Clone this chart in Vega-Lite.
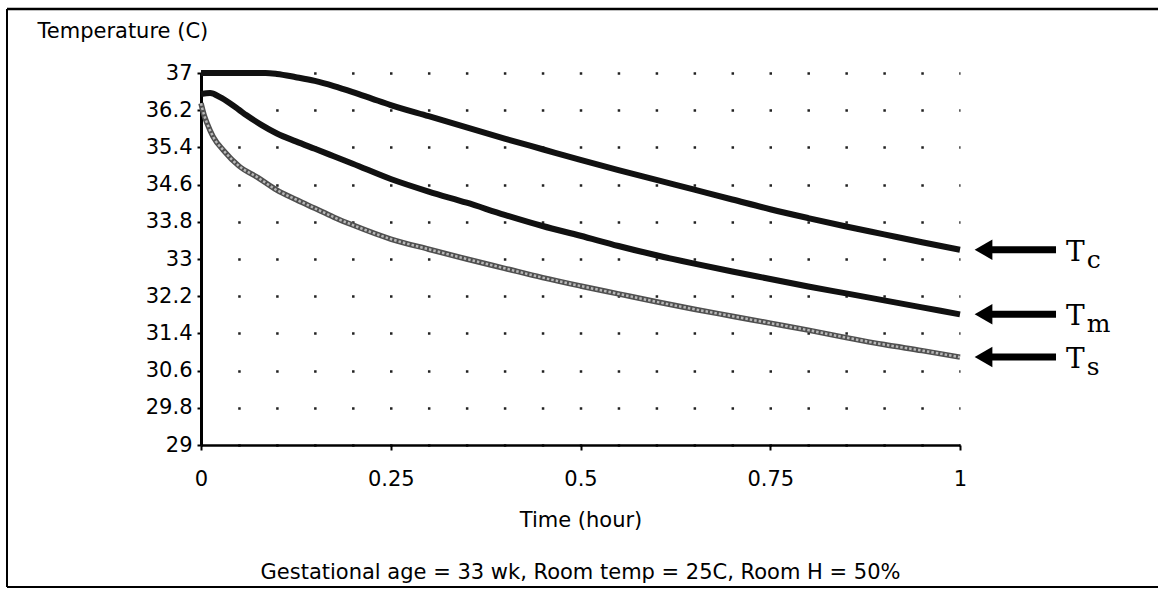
{
  "$schema": "https://vega.github.io/schema/vega-lite/v6.json",
  "width": 759,
  "height": 372,
  "autosize": {"type": "none"},
  "padding": {"left": 201, "top": 73, "right": 198, "bottom": 149},
  "background": "white",
  "config": {
    "view": {"stroke": null},
    "font": "DejaVu Sans",
    "axis": {"labelFont": "DejaVu Sans", "titleFont": "DejaVu Sans", "labelColor": "black", "titleColor": "black", "titleFontWeight": "normal"}
  },
  "datasets": {
    "curves": [
      {"series": "c", "time": 0, "temp": 37.0},
      {"series": "c", "time": 0.04, "temp": 37.0},
      {"series": "c", "time": 0.085, "temp": 37.0},
      {"series": "c", "time": 0.1, "temp": 36.98},
      {"series": "c", "time": 0.125, "temp": 36.91},
      {"series": "c", "time": 0.15, "temp": 36.83},
      {"series": "c", "time": 0.175, "temp": 36.72},
      {"series": "c", "time": 0.2, "temp": 36.59},
      {"series": "c", "time": 0.225, "temp": 36.45},
      {"series": "c", "time": 0.25, "temp": 36.31},
      {"series": "c", "time": 0.3, "temp": 36.07},
      {"series": "c", "time": 0.35, "temp": 35.83},
      {"series": "c", "time": 0.4, "temp": 35.59},
      {"series": "c", "time": 0.45, "temp": 35.36},
      {"series": "c", "time": 0.5, "temp": 35.13},
      {"series": "c", "time": 0.55, "temp": 34.91},
      {"series": "c", "time": 0.6, "temp": 34.7},
      {"series": "c", "time": 0.65, "temp": 34.49},
      {"series": "c", "time": 0.7, "temp": 34.28},
      {"series": "c", "time": 0.75, "temp": 34.07},
      {"series": "c", "time": 0.8, "temp": 33.88},
      {"series": "c", "time": 0.85, "temp": 33.7},
      {"series": "c", "time": 0.9, "temp": 33.53},
      {"series": "c", "time": 0.95, "temp": 33.36},
      {"series": "c", "time": 1, "temp": 33.2},
      {"series": "m", "time": 0, "temp": 36.55},
      {"series": "m", "time": 0.012, "temp": 36.57},
      {"series": "m", "time": 0.025, "temp": 36.48},
      {"series": "m", "time": 0.038, "temp": 36.35},
      {"series": "m", "time": 0.05, "temp": 36.21},
      {"series": "m", "time": 0.06, "temp": 36.09},
      {"series": "m", "time": 0.08, "temp": 35.88},
      {"series": "m", "time": 0.1, "temp": 35.7},
      {"series": "m", "time": 0.125, "temp": 35.53},
      {"series": "m", "time": 0.15, "temp": 35.37},
      {"series": "m", "time": 0.175, "temp": 35.21},
      {"series": "m", "time": 0.2, "temp": 35.05},
      {"series": "m", "time": 0.25, "temp": 34.72},
      {"series": "m", "time": 0.3, "temp": 34.45},
      {"series": "m", "time": 0.35, "temp": 34.21},
      {"series": "m", "time": 0.4, "temp": 33.95},
      {"series": "m", "time": 0.45, "temp": 33.71},
      {"series": "m", "time": 0.5, "temp": 33.5},
      {"series": "m", "time": 0.55, "temp": 33.28},
      {"series": "m", "time": 0.6, "temp": 33.08},
      {"series": "m", "time": 0.65, "temp": 32.9},
      {"series": "m", "time": 0.7, "temp": 32.73},
      {"series": "m", "time": 0.75, "temp": 32.57},
      {"series": "m", "time": 0.8, "temp": 32.41},
      {"series": "m", "time": 0.85, "temp": 32.26},
      {"series": "m", "time": 0.9, "temp": 32.11},
      {"series": "m", "time": 0.95, "temp": 31.96},
      {"series": "m", "time": 1, "temp": 31.81},
      {"series": "s", "time": 0, "temp": 36.35},
      {"series": "s", "time": 0.004, "temp": 36.1},
      {"series": "s", "time": 0.008, "temp": 35.92},
      {"series": "s", "time": 0.016, "temp": 35.63},
      {"series": "s", "time": 0.03, "temp": 35.33},
      {"series": "s", "time": 0.05, "temp": 35.0},
      {"series": "s", "time": 0.075, "temp": 34.75},
      {"series": "s", "time": 0.1, "temp": 34.48},
      {"series": "s", "time": 0.125, "temp": 34.28},
      {"series": "s", "time": 0.15, "temp": 34.09},
      {"series": "s", "time": 0.175, "temp": 33.9},
      {"series": "s", "time": 0.2, "temp": 33.73},
      {"series": "s", "time": 0.25, "temp": 33.43},
      {"series": "s", "time": 0.3, "temp": 33.21},
      {"series": "s", "time": 0.35, "temp": 33.0},
      {"series": "s", "time": 0.4, "temp": 32.8},
      {"series": "s", "time": 0.45, "temp": 32.6},
      {"series": "s", "time": 0.5, "temp": 32.42},
      {"series": "s", "time": 0.55, "temp": 32.25},
      {"series": "s", "time": 0.6, "temp": 32.08},
      {"series": "s", "time": 0.65, "temp": 31.92},
      {"series": "s", "time": 0.7, "temp": 31.77},
      {"series": "s", "time": 0.75, "temp": 31.62},
      {"series": "s", "time": 0.8, "temp": 31.47},
      {"series": "s", "time": 0.85, "temp": 31.31},
      {"series": "s", "time": 0.9, "temp": 31.16},
      {"series": "s", "time": 0.95, "temp": 31.03},
      {"series": "s", "time": 1, "temp": 30.89}
    ],
    "single": [{}]
  },
  "data": {"name": "curves"},
  "layer": [
    {
      "transform": [{"filter": "datum.series != 's'"}],
      "mark": {"type": "line", "strokeWidth": 6, "color": "#111", "interpolate": "monotone", "strokeJoin": "round"},
      "encoding": {
        "x": {
          "field": "time", "type": "quantitative",
          "scale": {"domain": [0, 1], "nice": false, "zero": false},
          "axis": {
            "values": [0, 0.25, 0.5, 0.75, 1],
            "tickCount": 20,
            "labelExpr": "'' + datum.value",
            "title": "Time (hour)",
            "titleFontSize": 21,
            "titlePadding": 20,
            "labelFontSize": 21,
            "labelPadding": 18,
            "labelFlush": false,
            "labelOverlap": false,
            "domainColor": "black",
            "domainWidth": 2.5,
            "tickColor": "black",
            "tickWidth": 2,
            "tickSize": 5,
            "grid": false
          }
        },
        "y": {
          "field": "temp", "type": "quantitative",
          "scale": {"domain": [29, 37], "nice": false, "zero": false},
          "axis": {
            "values": [29, 29.8, 30.6, 31.4, 32.2, 33, 33.8, 34.6, 35.4, 36.2, 37],
            "tickCount": 20,
            "labelExpr": "'' + datum.value",
            "labelFontSize": 21,
            "labelPadding": 5,
            "labelFlush": false,
            "labelOverlap": false,
            "domainColor": "black",
            "domainWidth": 3,
            "tickColor": "black",
            "tickWidth": 2,
            "tickSize": 4,
            "grid": true,
            "gridColor": "#222",
            "gridWidth": 2.5,
            "gridDash": [2.5, 35.45],
            "gridDashOffset": 1.25,
            "title": "Temperature (C)",
            "titleFontSize": 21,
            "titleAngle": 0,
            "titleAlign": "left",
            "titleBaseline": "middle",
            "titleX": -164,
            "titleY": -42
          }
        },
        "detail": {"field": "series"}
      }
    },
    {
      "transform": [{"filter": "datum.series == 's'"}],
      "mark": {"type": "line", "strokeWidth": 5.5, "color": "#505050", "interpolate": "monotone", "strokeJoin": "round"},
      "encoding": {
        "x": {"field": "time", "type": "quantitative", "scale": {"domain": [0, 1], "nice": false, "zero": false}},
        "y": {"field": "temp", "type": "quantitative", "scale": {"domain": [29, 37], "nice": false, "zero": false}}
      }
    },
    {
      "transform": [{"filter": "datum.series == 's'"}],
      "mark": {"type": "line", "strokeWidth": 2.5, "color": "#b8b8b8", "interpolate": "monotone", "strokeDash": [2.5, 2]},
      "encoding": {
        "x": {"field": "time", "type": "quantitative", "scale": {"domain": [0, 1], "nice": false, "zero": false}},
        "y": {"field": "temp", "type": "quantitative", "scale": {"domain": [29, 37], "nice": false, "zero": false}}
      }
    },
    {
      "transform": [{"filter": "datum.time == 1"}],
      "mark": {"type": "rule", "strokeWidth": 7, "color": "black"},
      "encoding": {
        "x": {"datum": 1.04, "type": "quantitative", "scale": {"domain": [0, 1], "nice": false, "zero": false}},
        "x2": {"datum": 1.1265},
        "y": {"field": "temp", "type": "quantitative", "scale": {"domain": [29, 37], "nice": false, "zero": false}}
      }
    },
    {
      "transform": [{"filter": "datum.time == 1"}],
      "mark": {"type": "point", "shape": "triangle-left", "filled": true, "size": 420, "color": "black", "opacity": 1},
      "encoding": {
        "x": {"datum": 1.031, "type": "quantitative", "scale": {"domain": [0, 1], "nice": false, "zero": false}},
        "y": {"field": "temp", "type": "quantitative", "scale": {"domain": [29, 37], "nice": false, "zero": false}}
      }
    },
    {
      "transform": [{"filter": "datum.time == 1"}],
      "mark": {"type": "text", "text": "T", "font": "DejaVu Serif", "fontSize": 28, "align": "left", "baseline": "alphabetic", "dy": 11, "color": "black"},
      "encoding": {
        "x": {"datum": 1.1397, "type": "quantitative", "scale": {"domain": [0, 1], "nice": false, "zero": false}},
        "y": {"field": "temp", "type": "quantitative", "scale": {"domain": [29, 37], "nice": false, "zero": false}}
      }
    },
    {
      "transform": [{"filter": "datum.time == 1"}],
      "mark": {"type": "text", "font": "DejaVu Serif", "fontSize": 25, "align": "left", "baseline": "alphabetic", "dy": 18, "color": "black"},
      "encoding": {
        "x": {"datum": 1.167, "type": "quantitative", "scale": {"domain": [0, 1], "nice": false, "zero": false}},
        "y": {"field": "temp", "type": "quantitative", "scale": {"domain": [29, 37], "nice": false, "zero": false}},
        "text": {"field": "series"}
      }
    },
    {
      "data": {"name": "single"},
      "mark": {"type": "text", "text": "Gestational age = 33 wk, Room temp = 25C, Room H = 50%", "font": "DejaVu Sans", "fontSize": 21, "align": "center", "baseline": "middle", "color": "black"},
      "encoding": {
        "x": {"datum": 0.5, "type": "quantitative", "scale": {"domain": [0, 1], "nice": false, "zero": false}},
        "y": {"datum": 26.25, "type": "quantitative", "scale": {"domain": [29, 37], "nice": false, "zero": false}}
      }
    },
    {
      "data": {"name": "single"},
      "mark": {"type": "rule", "strokeWidth": 2.5, "color": "black"},
      "encoding": {
        "x": {"datum": -0.2556, "type": "quantitative", "scale": {"domain": [0, 1], "nice": false, "zero": false}},
        "x2": {"datum": 1.4},
        "y": {"datum": 38.376, "type": "quantitative", "scale": {"domain": [29, 37], "nice": false, "zero": false}}
      }
    },
    {
      "data": {"name": "single"},
      "mark": {"type": "rule", "strokeWidth": 2, "color": "black"},
      "encoding": {
        "x": {"datum": -0.2556, "type": "quantitative", "scale": {"domain": [0, 1], "nice": false, "zero": false}},
        "x2": {"datum": 1.4},
        "y": {"datum": 25.946, "type": "quantitative", "scale": {"domain": [29, 37], "nice": false, "zero": false}}
      }
    },
    {
      "data": {"name": "single"},
      "mark": {"type": "rule", "strokeWidth": 2, "color": "black"},
      "encoding": {
        "x": {"datum": -0.2556, "type": "quantitative", "scale": {"domain": [0, 1], "nice": false, "zero": false}},
        "y": {"datum": 38.376, "type": "quantitative", "scale": {"domain": [29, 37], "nice": false, "zero": false}},
        "y2": {"datum": 25.946}
      }
    }
  ]
}
